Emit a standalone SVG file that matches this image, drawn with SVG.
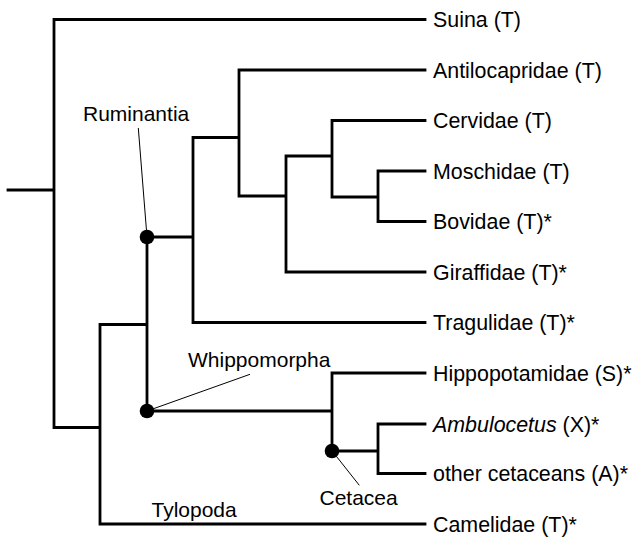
<svg xmlns="http://www.w3.org/2000/svg" width="634" height="537" viewBox="0 0 634 537">
<style>
.br{fill:none;stroke:#000;stroke-width:2.8;stroke-linecap:square;stroke-linejoin:miter}
.ld{fill:none;stroke:#000;stroke-width:1}
.dot{fill:#000}
text{font-family:"Liberation Sans",Arial,sans-serif;font-size:21px;fill:#000}
.leaf text{font-size:21.4px}
</style>
<rect width="634" height="537" fill="#fff"/>
<g id="connectors">
<path class="br" d="M8,190H54M54,19.5V427.5M54,19.5H425M54,427.5H100M100,324.5V524M100,524H425M100,324.5H147M147,237V411M147,237H193M193,137.5V322.5M193,322.5H425M193,137.5H239M239,70V196M239,70H425M239,196H286M286,156V272M286,272H425M286,156H332M332,120.5V197M332,120.5H425M332,197H378M378,171V221.5M378,171H425M378,221.5H425M147,411H332M332,373V451M332,373H425M332,451H378M378,424V473.5M378,424H425M378,473.5H425"/>
<path class="ld" d="M138.3,128L147,237M250,374.3L147,411M336.7,456.7L359.3,485.3"/>
</g>
<g id="node-ruminantia"><circle class="dot" cx="147" cy="237" r="7.3"/><text x="83" y="121">Ruminantia</text></g>
<g id="node-whippomorpha"><circle class="dot" cx="147" cy="411" r="7.3"/><text x="188" y="366.7">Whippomorpha</text></g>
<g id="node-cetacea"><circle class="dot" cx="332" cy="451" r="7.3"/><text x="319.5" y="505">Cetacea</text></g>
<g id="node-tylopoda"><text x="151.5" y="516.7">Tylopoda</text></g>
<g class="leaf">
<g id="leaf-suina"><text x="433" y="27">Suina (T)</text></g>
<g id="leaf-antilocapridae"><text x="433" y="77.5">Antilocapridae (T)</text></g>
<g id="leaf-cervidae"><text x="433" y="128">Cervidae (T)</text></g>
<g id="leaf-moschidae"><text x="433" y="178.5">Moschidae (T)</text></g>
<g id="leaf-bovidae"><text x="433" y="229">Bovidae (T)*</text></g>
<g id="leaf-giraffidae"><text x="433" y="279.5">Giraffidae (T)*</text></g>
<g id="leaf-tragulidae"><text x="433" y="330">Tragulidae (T)*</text></g>
<g id="leaf-hippopotamidae"><text x="433" y="380.5">Hippopotamidae (S)*</text></g>
<g id="leaf-ambulocetus"><text x="433" y="431.5"><tspan font-style="italic">Ambulocetus</tspan> (X)*</text></g>
<g id="leaf-cetaceans"><text x="433" y="481">other cetaceans (A)*</text></g>
<g id="leaf-camelidae"><text x="433" y="531.5">Camelidae (T)*</text></g>
</g>
</svg>
